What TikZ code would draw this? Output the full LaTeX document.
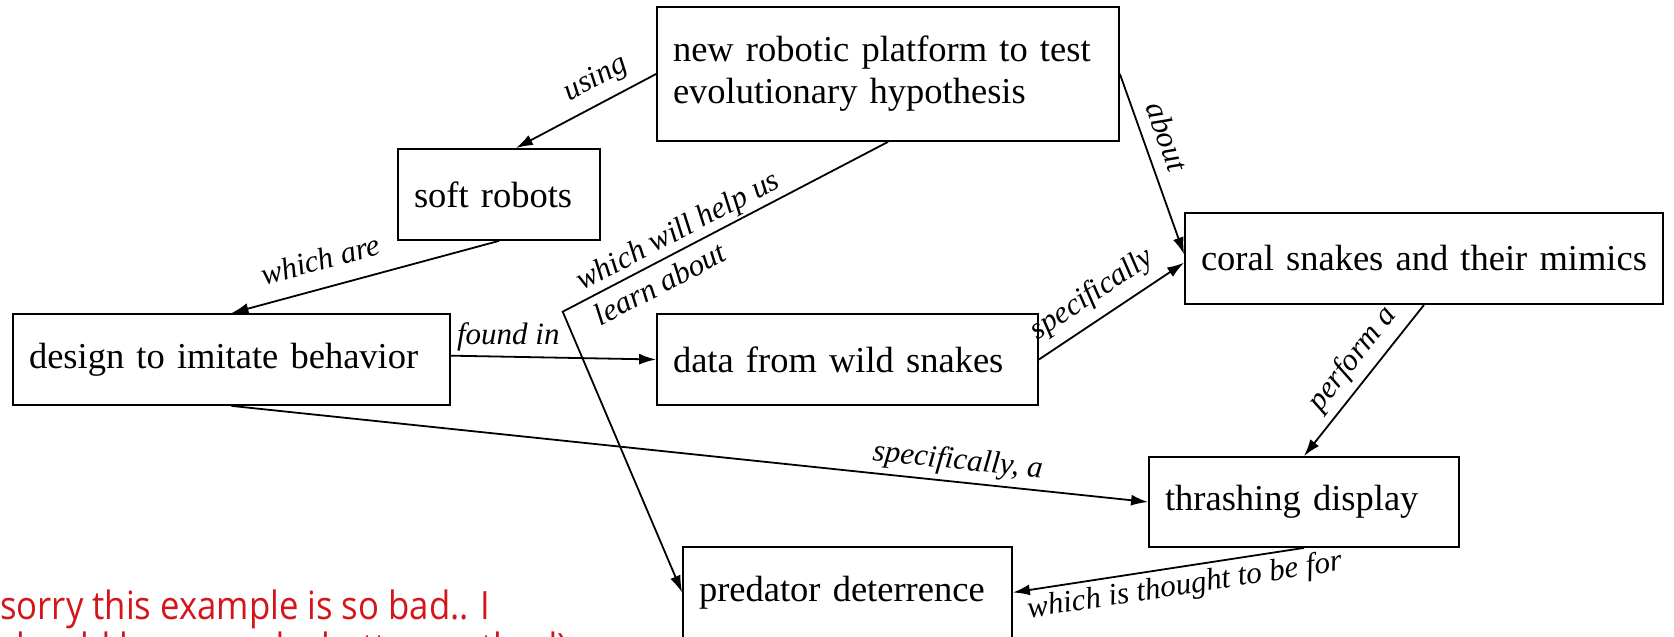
\documentclass[tikz,border=0pt]{standalone}
\usepackage{fontspec}
\setmainfont{Liberation Serif}
\newfontfamily\notefont{Open Sans}[FakeStretch=0.89]
\usepackage{tikz}
\usetikzlibrary{arrows.meta}
\usetikzlibrary{positioning}
\definecolor{notered}{RGB}{212,22,26}
\newcommand{\boxfont}{\fontsize{36.5}{42}\selectfont}
\newcommand{\linkfont}{\fontsize{31}{40}\selectfont\itshape}
\tikzstyle{concept}=[draw, line width=1.8pt, align=left, inner xsep=16pt,
  inner ysep=0pt, font=\boxfont]
\tikzstyle{link}=[font=\linkfont, inner sep=3pt]
\tikzstyle{line} = [draw, line width=1.8pt, -{Latex[length=17pt,width=11pt]}]
\newcommand{\concept}[4]{node (#1) [concept, text width=#2pt,
  minimum height=#3pt] {#4}}

\begin{document}
\begin{tikzpicture}[x=1pt, y=1pt]
    \useasboundingbox (0,0) rectangle (1674,637);

    % Draw diagram elements
    \path (888,563)    \concept{platform}{430}{134}{new robotic platform to test\\evolutionary hypothesis};
    \path (499,442.5)  \concept{soft}{170}{91}{soft robots};
    \path (231.5,277.5) \concept{design}{405}{91}{design to imitate behavior};
    \path (847.5,277.5) \concept{data}{349}{91}{data from wild snakes};
    \path (1424,378.5) \concept{coral}{446}{91}{coral snakes and their mimics};
    \path (1304,135)   \concept{thrash}{278}{90}{thrashing display};
    \path (847.5,44.5) \concept{predator}{297}{91}{predator deterrence};
    \coordinate (bend) at (562.7,325.3);

    % Draw arrows between elements
    \path [line] (platform.west) -- node [link, sloped, above=6pt, pos=0.35] {using} (soft.70);
    \path [line] (soft.south) -- node [link, sloped, above=14pt, pos=0.64] {which are} (design.north);
    \path [line] (design.1.5) -- node [link, above=2pt, pos=0.28] {found in} (data.west);
    \path [line] (data.east) -- node [link, sloped, above=6pt, pos=0.46] {specifically} (coral.181);
    \path [line] (platform.east) -- node [link, sloped, above=9pt, pos=0.39] {about} (coral.179);
    \path [line] (platform.south) -- node [link, sloped, align=left, pos=0.62] {which will help us\\learn about} (bend) -- (predator.west);
    \path [line] (coral.south) -- node [link, sloped, above=4pt, pos=0.45] {perform a} (thrash.north);
    \path [line] (design.south) -- node [link, sloped, above=2pt, pos=0.79] {specifically, a} (thrash.west);
    \path [line] (thrash.south) -- node [link, sloped, below=2pt, pos=0.42] {which is thought to be for} (predator.east);

    % note in the corner
    \node (note) [anchor=north west, align=left, text=notered, inner sep=0pt,
      font=\notefont\fontsize{39}{42}\selectfont] at (0,47)
      {sorry this example is so bad.. I\\should have used a better method)};
\end{tikzpicture}
\end{document}
